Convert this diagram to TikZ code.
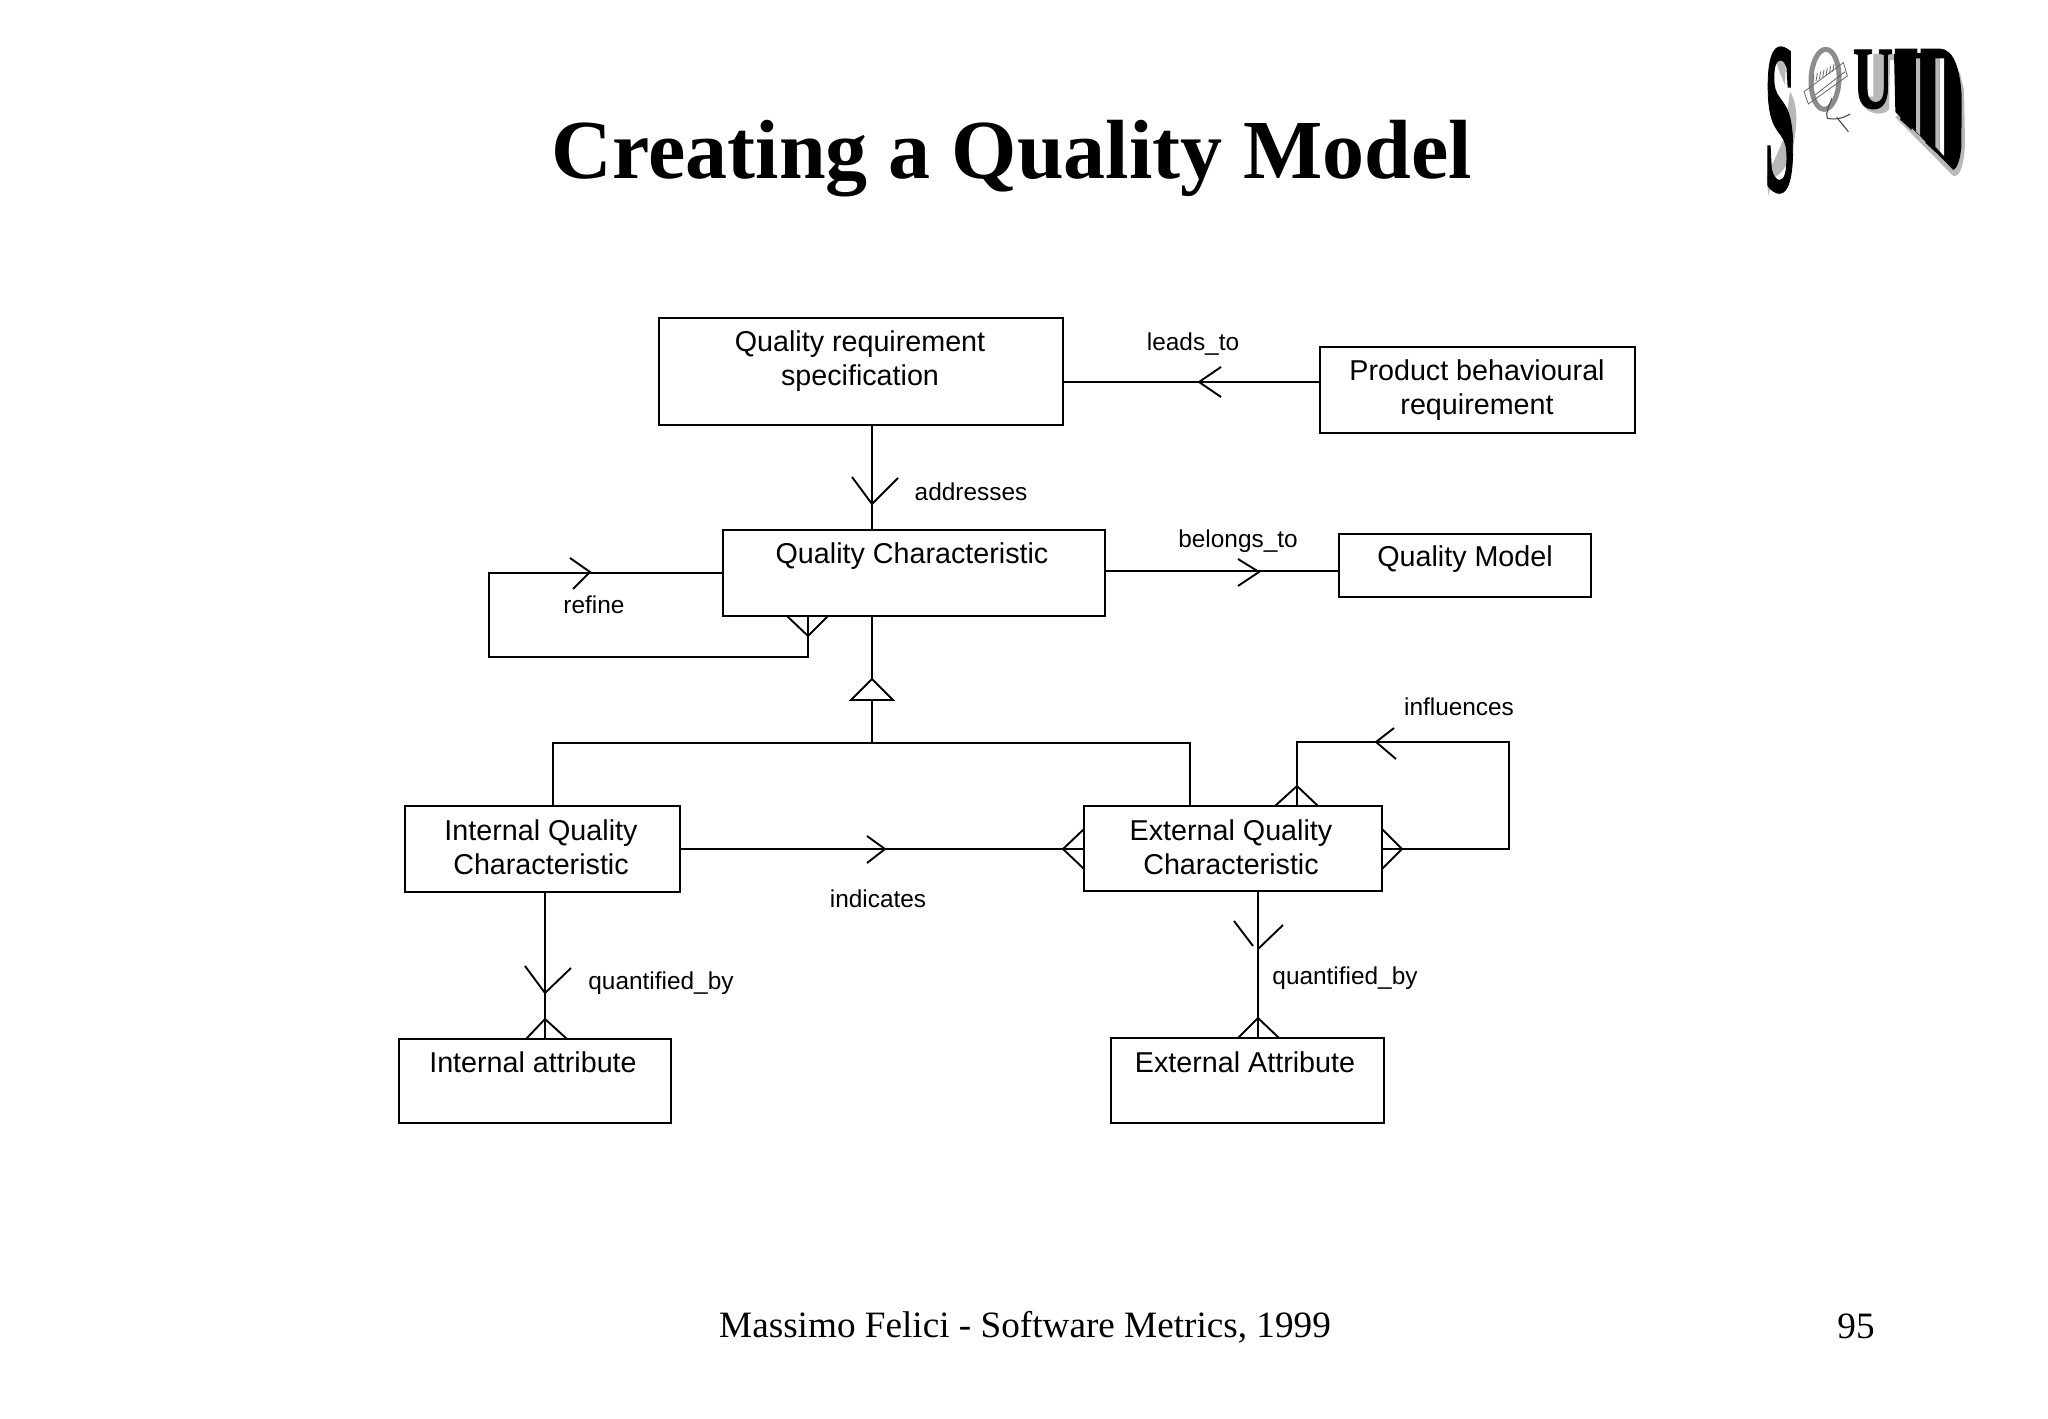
\documentclass[tikz,border=0pt]{standalone}
\usepackage{graphicx}
\usepackage{fontspec}
\setmainfont{Liberation Serif}
\newfontfamily\arialf{Liberation Sans}
\newfontfamily\logof[FakeBold=1.5]{Liberation Serif Bold}
\tikzset{
  x=0.5pt,y=-0.5pt,
  boxnode/.style={draw=black,line width=0.95pt,rectangle,inner sep=0pt,outer sep=0pt,fill=white},
  boxtext/.style={inner sep=0pt,align=center,font=\arialf\fontsize{14.35}{17}\selectfont},
  linklabel/.style={inner sep=0pt,font=\arialf\fontsize{12.2}{14}\selectfont},
  conn/.style={draw=black,line width=0.95pt,line join=miter},
  tip/.style={draw=black,line width=0.95pt,line join=miter},
  slidetitle/.style={inner sep=0pt,font=\bfseries\fontsize{42}{48}\selectfont},
  slidefoot/.style={inner sep=0pt,font=\fontsize{18.6}{22}\selectfont},
  logoglyph/.style={inner sep=0pt,outer sep=0pt,anchor=north west,font=\logof,text=black},
  logoshade/.style={fill=black!28,draw=none}
}
\newcommand{\bx}[5]{%
  \pgfmathsetlengthmacro{\bw}{(#4-#2)*0.5pt}%
  \pgfmathsetlengthmacro{\bh}{(#5-#3)*0.5pt}%
  \pgfmathsetmacro{\bcx}{(#4+#2)/2}%
  \pgfmathsetmacro{\bcy}{(#5+#3)/2}%
  \node[boxnode,minimum width=\bw,minimum height=\bh] (#1) at (\bcx,\bcy) {};}
\begin{document}
\begin{tikzpicture}
\useasboundingbox (0,0) rectangle (2048,1418);
\fill[white] (0,0) rectangle (2048,1418);

% title and footer
\node[slidetitle] (title) at (1012,159) {Creating a Quality Model};
\node[slidefoot] (foot) at (1025,1327) {Massimo Felici - Software Metrics, 1999};
\node[slidefoot] (pageno) at (1856,1326) {95};

% logo: shadow and magnifier, in coordinates of a 3x crop
\begin{scope}[shift={(1740,30)},x=0.16667pt,y=-0.16667pt]
  \fill[logoshade] (108,95) .. controls (118,82) and (130,82) .. (138,85) -- (135,165) -- (120,130) -- cycle;
  \fill[logoshade] (150,185) .. controls (178,230) and (172,300) .. (152,380) .. controls (135,420) and (112,440) .. (97,445) -- (85,497) -- (80,440) -- (130,330) -- cycle;
  \fill[logoshade] (355,200) .. controls (370,255) and (430,262) .. (447,238) -- (450,90) -- (465,90) -- (462,72) -- (400,72) -- (400,200) -- cycle;
  \fill[logoshade] (466,262) -- (535,332) -- (640,438) .. controls (662,442) and (672,400) .. (675,340) -- (672,180) -- (660,130) -- (640,100) -- cycle;
  \fill[black] (462,72) -- (625,66) .. controls (650,85) and (662,140) .. (665,200) -- (664,350) .. controls (660,395) and (650,415) .. (640,420) -- (540,318) -- (466,246) -- cycle;
  \draw[black!45!white,line width=2.5pt,rotate around={-2:(255,148)}] (255,148) ellipse [x radius=42,y radius=90];
  \draw[black!60,line width=0.4pt] (192,185) -- (310,98) -- (322,138) -- (205,222) -- cycle;
  \draw[black!60,line width=0.4pt] (225,195) -- (315,125);
  \foreach \k in {0,...,6} {\draw[black!60,line width=0.4pt] (222+\k*10,135-\k*5.4) -- (218+\k*10,158-\k*5.4);}
  \draw[black!70,line width=0.55pt] (275,205) .. controls (268,230) and (255,245) .. (262,265) .. controls (285,270) and (310,265) .. (330,252);
  \draw[black!70,line width=0.55pt] (290,262) -- (325,305);
\end{scope}

% logo letters
\node[logoglyph] (logoS) at (1765,48) {\resizebox{15pt}{71pt}{S}};
\node[logoglyph] (logoU) at (1853,50) {\resizebox{20pt}{29pt}{U}};
\begin{scope}
  \clip (1890,40) -- (1970,40) -- (1970,175) -- (1955,170) -- (1893,113) -- cycle;
  \node[logoglyph] (logoI) at (1893,50) {\resizebox{13pt}{62pt}{I}};
  \node[logoglyph] (logoD) at (1920,50) {\resizebox{21.5pt}{62pt}{D}};
\end{scope}

% stripes over the letters I and D
\begin{scope}[shift={(1740,30)},x=0.16667pt,y=-0.16667pt]
  \fill[logoshade] (528,85) -- (540,85) -- (540,316) -- (528,304) -- cycle;
  \fill[logoshade] (586,85) -- (599,85) -- (599,364) -- (586,350) -- cycle;
  \fill[white] (599,85) -- (612,85) -- (612,378) -- (599,364) -- cycle;
\end{scope}

% boxes
\bx{qrs}{659}{318}{1063}{425}
\bx{pbr}{1320}{347}{1635}{433}
\bx{qc}{723}{530}{1105}{616}
\bx{qm}{1339}{534}{1591}{597}
\bx{iqc}{405}{806}{680}{892}
\bx{eqc}{1084}{806}{1382}{891}
\bx{ia}{399}{1039}{671}{1123}
\bx{ea}{1111}{1038}{1384}{1123}

% box texts
\node[boxtext] (qrst) at (860,361) {Quality requirement\\specification};
\node[boxtext] (pbrt) at (1477,390) {Product behavioural\\requirement};
\node[boxtext] (qct) at (912,556) {Quality Characteristic};
\node[boxtext] (qmt) at (1465,559) {Quality Model};
\node[boxtext] (iqct) at (541,847) {Internal Quality\\Characteristic};
\node[boxtext] (eqct) at (1231,847) {External Quality\\Characteristic};
\node[boxtext] (iat) at (533,1062) {Internal attribute};
\node[boxtext] (eat) at (1245,1062) {External Attribute};

% helper coordinates
\coordinate (refA) at (489,573);
\coordinate (refB) at (489,657);
\coordinate (refC) at (808,657);
\coordinate (infA) at (1509,849);
\coordinate (infB) at (1509,742);
\coordinate (infC) at (1297,742);
\coordinate (busL) at (553,743);
\coordinate (busM) at (872,743);
\coordinate (busR) at (1190,743);
\coordinate (triTop) at (872,679);
\coordinate (triBase) at (872,700);

% connectors
\draw[conn] (qrs.east |- 0,382) -- (pbr.west |- 0,382);
\draw[conn] (872,0 |- qrs.south) -- (872,0 |- qc.north);
\draw[conn] (qc.east |- 0,571) -- (qm.west |- 0,571);
\draw[conn] (qc.west |- refA) -- (refA) -- (refB) -- (refC) -- (refC |- qc.south);
\draw[conn] (872,0 |- qc.south) -- (triTop);
\draw[conn] (triBase) -- (busM);
\draw[conn] (busL |- iqc.north) -- (busL) -- (busR) -- (busR |- eqc.north);
\draw[conn] (iqc.east |- 0,849) -- (eqc.west |- 0,849);
\draw[conn] (eqc.east |- infA) -- (infA) -- (infB) -- (infC) -- (infC |- eqc.north);
\draw[conn] (1258,0 |- eqc.south) -- (1258,0 |- ea.north);
\draw[conn] (545,0 |- iqc.south) -- (545,0 |- ia.north);

% line ends
\draw[tip] (1221,367) -- (1199,382) -- (1221,397);
\draw[tip] (852,477) -- (872,504) -- (898,478);
\draw[tip] (1238,559) -- (1259,572) -- (1238,586);
\draw[tip] (570,558) -- (590,572) -- (573,589);
\draw[tip] (787,616) -- (808,636) -- (828,616);
\draw[tip] (851,700) -- (872,679) -- (893,700) -- cycle;
\draw[tip] (867,836) -- (885,849) -- (867,863);
\draw[tip] (1084,829) -- (1063,849) -- (1084,869);
\draw[tip] (1382,829) -- (1402,849) -- (1382,869);
\draw[tip] (1275,806) -- (1297,786) -- (1318,806);
\draw[tip] (1394,728) -- (1376,742) -- (1396,759);
\draw[tip] (1283,925) -- (1258,949);
\draw[tip] (1234,921) -- (1253,946);
\draw[tip] (1238,1038) -- (1258,1018) -- (1279,1038);
\draw[tip] (525,966) -- (545,993) -- (571,968);
\draw[tip] (526,1039) -- (545,1019) -- (567,1039);

% connector labels
\node[linklabel] (l1) at (1193,344) {leads\_to};
\node[linklabel] (l2) at (971,492) {addresses};
\node[linklabel] (l3) at (1238,541) {belongs\_to};
\node[linklabel] (l4) at (594,605) {refine};
\node[linklabel] (l5) at (1459,707) {influences};
\node[linklabel] (l6) at (878,899) {indicates};
\node[linklabel] (l7) at (661,983) {quantified\_by};
\node[linklabel] (l8) at (1345,978) {quantified\_by};
\end{tikzpicture}
\end{document}
